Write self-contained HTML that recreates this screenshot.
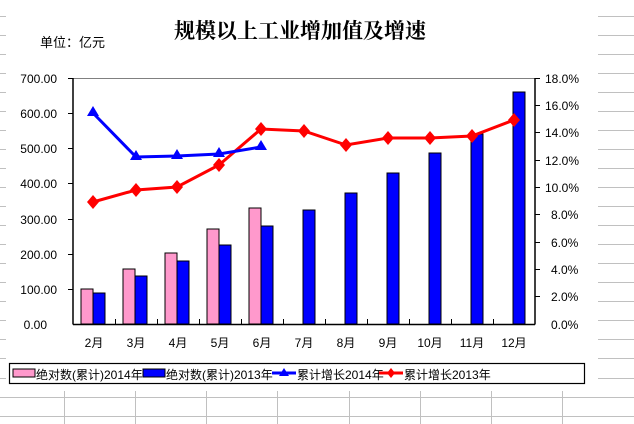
<!DOCTYPE html>
<html><head><meta charset="utf-8"><style>
body{margin:0;background:#fff;}
svg{display:block;font-family:"Liberation Sans","Noto Sans CJK SC",sans-serif;}
</style></head><body>
<svg width="634" height="424" xmlns="http://www.w3.org/2000/svg">
<g stroke="#c0c0c0" stroke-width="1">
<line x1="0" y1="16.5" x2="6" y2="16.5"/><line x1="0" y1="35.5" x2="6" y2="35.5"/><line x1="0" y1="54.5" x2="6" y2="54.5"/><line x1="0" y1="73.5" x2="6" y2="73.5"/><line x1="0" y1="92.5" x2="6" y2="92.5"/><line x1="0" y1="111.5" x2="6" y2="111.5"/><line x1="0" y1="130.5" x2="6" y2="130.5"/><line x1="0" y1="149.5" x2="6" y2="149.5"/><line x1="0" y1="168.5" x2="6" y2="168.5"/><line x1="0" y1="187.5" x2="6" y2="187.5"/><line x1="0" y1="206.5" x2="6" y2="206.5"/><line x1="0" y1="225.5" x2="6" y2="225.5"/><line x1="0" y1="244.5" x2="6" y2="244.5"/><line x1="0" y1="263.5" x2="6" y2="263.5"/><line x1="0" y1="282.5" x2="6" y2="282.5"/><line x1="0" y1="301.5" x2="6" y2="301.5"/><line x1="0" y1="320.5" x2="6" y2="320.5"/><line x1="0" y1="339.5" x2="6" y2="339.5"/><line x1="0" y1="358.5" x2="6" y2="358.5"/><line x1="0" y1="378.5" x2="6" y2="378.5"/>
<line x1="598" y1="16.5" x2="634" y2="16.5"/><line x1="598" y1="35.5" x2="634" y2="35.5"/><line x1="598" y1="54.5" x2="634" y2="54.5"/><line x1="598" y1="73.5" x2="634" y2="73.5"/><line x1="598" y1="92.5" x2="634" y2="92.5"/><line x1="598" y1="111.5" x2="634" y2="111.5"/><line x1="598" y1="130.5" x2="634" y2="130.5"/><line x1="598" y1="149.5" x2="634" y2="149.5"/><line x1="598" y1="168.5" x2="634" y2="168.5"/><line x1="598" y1="187.5" x2="634" y2="187.5"/><line x1="598" y1="206.5" x2="634" y2="206.5"/><line x1="598" y1="225.5" x2="634" y2="225.5"/><line x1="598" y1="244.5" x2="634" y2="244.5"/><line x1="598" y1="263.5" x2="634" y2="263.5"/><line x1="598" y1="282.5" x2="634" y2="282.5"/><line x1="598" y1="301.5" x2="634" y2="301.5"/><line x1="598" y1="320.5" x2="634" y2="320.5"/><line x1="598" y1="339.5" x2="634" y2="339.5"/><line x1="598" y1="358.5" x2="634" y2="358.5"/><line x1="598" y1="378.5" x2="634" y2="378.5"/>
<line x1="0" y1="397.5" x2="634" y2="397.5"/><line x1="0" y1="416.5" x2="634" y2="416.5"/>
<line x1="64.5" y1="391" x2="64.5" y2="424"/><line x1="135.5" y1="391" x2="135.5" y2="424"/><line x1="206.5" y1="391" x2="206.5" y2="424"/><line x1="277.5" y1="391" x2="277.5" y2="424"/><line x1="349.5" y1="391" x2="349.5" y2="424"/><line x1="420.5" y1="391" x2="420.5" y2="424"/><line x1="491.5" y1="391" x2="491.5" y2="424"/><line x1="562.5" y1="391" x2="562.5" y2="424"/>
</g>
<text x="40" y="47" font-size="13">单位：亿元</text>
<text x="300" y="38" font-size="21" font-weight="bold" text-anchor="middle" font-family="'Noto Serif CJK SC','Noto Sans CJK SC',serif">规模以上工业增加值及增速</text>
<line x1="73" y1="78.5" x2="535" y2="78.5" stroke="#808080"/>
<g stroke="#000" stroke-width="1.5" fill="none">
<line x1="73" y1="78" x2="73" y2="324.5"/>
<line x1="535" y1="78" x2="535" y2="324.5"/>
<line x1="73" y1="324.5" x2="535" y2="324.5"/>
</g>
<g stroke="#000" stroke-width="1">
<line x1="68" y1="78.5" x2="73" y2="78.5"/><line x1="68" y1="113.5" x2="73" y2="113.5"/><line x1="68" y1="148.5" x2="73" y2="148.5"/><line x1="68" y1="183.5" x2="73" y2="183.5"/><line x1="68" y1="219.5" x2="73" y2="219.5"/><line x1="68" y1="254.5" x2="73" y2="254.5"/><line x1="68" y1="289.5" x2="73" y2="289.5"/>
<line x1="535" y1="78.5" x2="540" y2="78.5"/><line x1="535" y1="105.5" x2="540" y2="105.5"/><line x1="535" y1="132.5" x2="540" y2="132.5"/><line x1="535" y1="160.5" x2="540" y2="160.5"/><line x1="535" y1="187.5" x2="540" y2="187.5"/><line x1="535" y1="214.5" x2="540" y2="214.5"/><line x1="535" y1="242.5" x2="540" y2="242.5"/><line x1="535" y1="269.5" x2="540" y2="269.5"/><line x1="535" y1="296.5" x2="540" y2="296.5"/>
<line x1="115.5" y1="319" x2="115.5" y2="324"/><line x1="157.5" y1="319" x2="157.5" y2="324"/><line x1="199.5" y1="319" x2="199.5" y2="324"/><line x1="241.5" y1="319" x2="241.5" y2="324"/><line x1="283.5" y1="319" x2="283.5" y2="324"/><line x1="325.5" y1="319" x2="325.5" y2="324"/><line x1="367.5" y1="319" x2="367.5" y2="324"/><line x1="409.5" y1="319" x2="409.5" y2="324"/><line x1="451.5" y1="319" x2="451.5" y2="324"/><line x1="493.5" y1="319" x2="493.5" y2="324"/>
</g>
<g font-size="12" text-anchor="end">
<text x="57" y="83">700.00</text><text x="57" y="118">600.00</text><text x="57" y="153">500.00</text><text x="57" y="188">400.00</text><text x="57" y="224">300.00</text><text x="57" y="259">200.00</text><text x="57" y="294">100.00</text><text x="47" y="329">0.00</text>
</g>
<g font-size="12">
<text x="545" y="83">18.0%</text><text x="545" y="110">16.0%</text><text x="545" y="137">14.0%</text><text x="545" y="165">12.0%</text><text x="545" y="192">10.0%</text><text x="551" y="219">8.0%</text><text x="551" y="247">6.0%</text><text x="551" y="274">4.0%</text><text x="551" y="301">2.0%</text><text x="551" y="329">0.0%</text>
</g>
<g font-size="12" text-anchor="middle">
<text x="94" y="347">2月</text><text x="136" y="347">3月</text><text x="178" y="347">4月</text><text x="220" y="347">5月</text><text x="262" y="347">6月</text><text x="304" y="347">7月</text><text x="346" y="347">8月</text><text x="388" y="347">9月</text><text x="430" y="347">10月</text><text x="472" y="347">11月</text><text x="514" y="347">12月</text>
</g>
<g stroke="#000" stroke-width="1">
<g fill="#ff99cc">
<rect x="81" y="289" width="12" height="35"/><rect x="123" y="269" width="12" height="55"/><rect x="165" y="253" width="12" height="71"/><rect x="207" y="229" width="12" height="95"/><rect x="249" y="208" width="12" height="116"/>
</g>
<g fill="#0000ff">
<rect x="93" y="293" width="12" height="31"/><rect x="135" y="276" width="12" height="48"/><rect x="177" y="261" width="12" height="63"/><rect x="219" y="245" width="12" height="79"/><rect x="261" y="226" width="12" height="98"/><rect x="303" y="210" width="12" height="114"/><rect x="345" y="193" width="12" height="131"/><rect x="387" y="173" width="12" height="151"/><rect x="429" y="153" width="12" height="171"/><rect x="471" y="134" width="12" height="190"/><rect x="513" y="92" width="12" height="232"/>
</g>
</g>
<polyline fill="none" stroke="#ff0000" stroke-width="3" points="93,202 136,190 177,187 219,165 261,129 304,131 346,145 388,138 430,138 472,136 514,120"/>
<g fill="#ff0000">
<path d="M93,195 l6,7 -6,7 -6,-7z"/><path d="M136,183 l6,7 -6,7 -6,-7z"/><path d="M177,180 l6,7 -6,7 -6,-7z"/><path d="M219,158 l6,7 -6,7 -6,-7z"/><path d="M261,122 l6,7 -6,7 -6,-7z"/><path d="M304,124 l6,7 -6,7 -6,-7z"/><path d="M346,138 l6,7 -6,7 -6,-7z"/><path d="M388,131 l6,7 -6,7 -6,-7z"/><path d="M430,131 l6,7 -6,7 -6,-7z"/><path d="M472,129 l6,7 -6,7 -6,-7z"/><path d="M514,113 l6,7 -6,7 -6,-7z"/>
</g>
<polyline fill="none" stroke="#0000ff" stroke-width="3" points="93,113 136,157 177,156 219,154 261,147"/>
<g fill="#0000ff">
<path d="M93,106 l6,10 h-12z"/><path d="M136,150 l6,10 h-12z"/><path d="M177,149 l6,10 h-12z"/><path d="M219,147 l6,10 h-12z"/><path d="M261,140 l6,10 h-12z"/>
</g>
<rect x="9.5" y="363.5" width="575" height="20" fill="#fff" stroke="#000" stroke-width="1.2"/>
<rect x="13" y="369" width="22" height="8" fill="#ff99cc" stroke="#000"/>
<text x="36" y="379" font-size="12">绝对数(累计)2014年</text>
<rect x="143" y="369" width="22" height="8" fill="#0000ff" stroke="#000"/>
<text x="166" y="379" font-size="12">绝对数(累计)2013年</text>
<line x1="272" y1="373" x2="296" y2="373" stroke="#0000ff" stroke-width="3"/>
<path d="M284,368 l5,8 h-10z" fill="#0000ff"/>
<text x="297" y="379" font-size="12">累计增长2014年</text>
<line x1="379" y1="373" x2="403" y2="373" stroke="#ff0000" stroke-width="3"/>
<path d="M391,368 l4,5 -4,5 -4,-5z" fill="#ff0000"/>
<text x="404" y="379" font-size="12">累计增长2013年</text>
</svg>
</body></html>
